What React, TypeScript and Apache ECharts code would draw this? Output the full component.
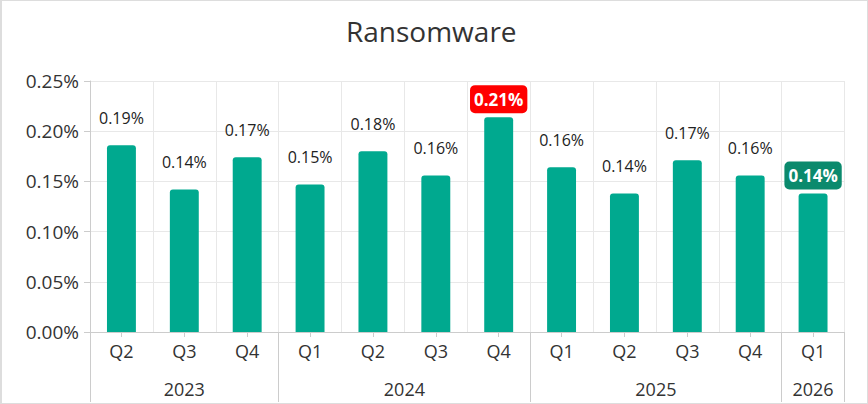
import React, { useEffect, useRef } from "react";
import * as echarts from "echarts";

const title = "Ransomware";
const quarters = ["Q2", "Q3", "Q4", "Q1", "Q2", "Q3", "Q4", "Q1", "Q2", "Q3", "Q4", "Q1"];
const values = [0.186, 0.142, 0.174, 0.147, 0.18, 0.156, 0.214, 0.164, 0.138, 0.171, 0.156, 0.138];
const years = ["2023", "2024", "2025", "2026"];
const yearStarts = [0, 3, 7, 11, 12]; // group boundaries (category index)
const yTicks = [0, 0.05, 0.1, 0.15, 0.2, 0.25];
const highlightMax = 6; // index of red label
const highlightLast = 11; // index of dark green label

const FONT = "Open Sans";
const BAR = "#00a98f";

export default function App() {
  const ref = useRef<HTMLDivElement>(null);
  useEffect(() => {
    if (!ref.current) return;
    const chart = echarts.init(ref.current, undefined, { renderer: "svg" });
    const yearCenters = years.map((_, i) => (yearStarts[i] + yearStarts[i + 1]) / 2);
    const boxLabel = (bg: string) => ({
      backgroundColor: bg,
      color: "#fff",
      fontWeight: "bold",
      fontSize: 17,
      borderRadius: 5,
      padding: [6, 4, 5, 4],
      distance: 4,
    });
    const data = values.map((v, i) => {
      if (i === highlightMax) return { value: v, label: boxLabel("#ff0000") };
      if (i === highlightLast) return { value: v, label: boxLabel("#0b8a6d") };
      return v;
    });
    chart.setOption({
      animation: false,
      textStyle: { fontFamily: FONT },
      title: {
        text: title,
        left: 341,
        top: 12,
        textStyle: { fontFamily: FONT, fontSize: 28, fontWeight: "normal", color: "#333" },
      },
      grid: { left: 90, right: 23.5, top: 81, bottom: 72, containLabel: false },
      xAxis: [
        {
          type: "category",
          data: quarters,
          position: "bottom",
          axisLine: { show: true, lineStyle: { color: "#cccccc", width: 1 } },
          axisTick: { show: true, alignWithLabel: true, length: 5, lineStyle: { color: "#cccccc" } },
          axisLabel: { color: "#333", fontSize: 18, margin: 10, fontFamily: FONT },
          splitLine: { show: true, lineStyle: { color: "#e8e8e8" } },
        },
        {
          type: "value",
          min: 0,
          max: 12,
          position: "bottom",
          offset: 70,
          axisLine: { show: false },
          axisTick: {
            show: true,
            inside: true,
            length: 70,
            customValues: yearStarts,
            lineStyle: { color: "#cccccc" },
          },
          axisLabel: {
            show: true,
            inside: true,
            margin: 4,
            customValues: yearCenters,
            formatter: (v: number) => {
              const idx = yearCenters.indexOf(v);
              return idx >= 0 ? years[idx] : "";
            },
            color: "#333",
            fontSize: 18,
            fontFamily: FONT,
          },
          splitLine: { show: false },
        },
      ],
      yAxis: {
        type: "value",
        min: 0,
        max: 0.25,
        interval: 0.05,
        axisLine: { show: true, lineStyle: { color: "#cccccc" } },
        axisTick: { show: true, length: 6, lineStyle: { color: "#cccccc" } },
        axisLabel: {
          color: "#333",
          fontSize: 19,
          margin: 11,
          fontFamily: FONT,
          customValues: yTicks,
          formatter: (v: number) => v.toFixed(2) + "%",
        },
        splitLine: { show: true, lineStyle: { color: "#e8e8e8" } },
      },
      series: [
        {
          type: "bar",
          xAxisIndex: 0,
          data,
          barWidth: "46%",
          itemStyle: { color: BAR, borderRadius: [3, 3, 0, 0] },
          label: {
            show: true,
            position: "top",
            distance: 19,
            color: "#222",
            fontSize: 16,
            fontFamily: FONT,
            formatter: (p: any) => Number(p.value).toFixed(2) + "%",
          },
        },
      ],
    });
    return () => chart.dispose();
  }, []);
  return (
    <div style={{ position: "absolute", left: 0, top: 0, width: 868, height: 404 }}>
      <div ref={ref} style={{ position: "absolute", left: 0, top: 0, width: 868, height: 404 }} />
      <div
        style={{
          position: "absolute",
          left: 0,
          top: 0,
          width: 868,
          height: 404,
          boxSizing: "border-box",
          border: "1px solid #dddddd",
          borderLeftWidth: 2,
          pointerEvents: "none",
        }}
      />
    </div>
  );
}
